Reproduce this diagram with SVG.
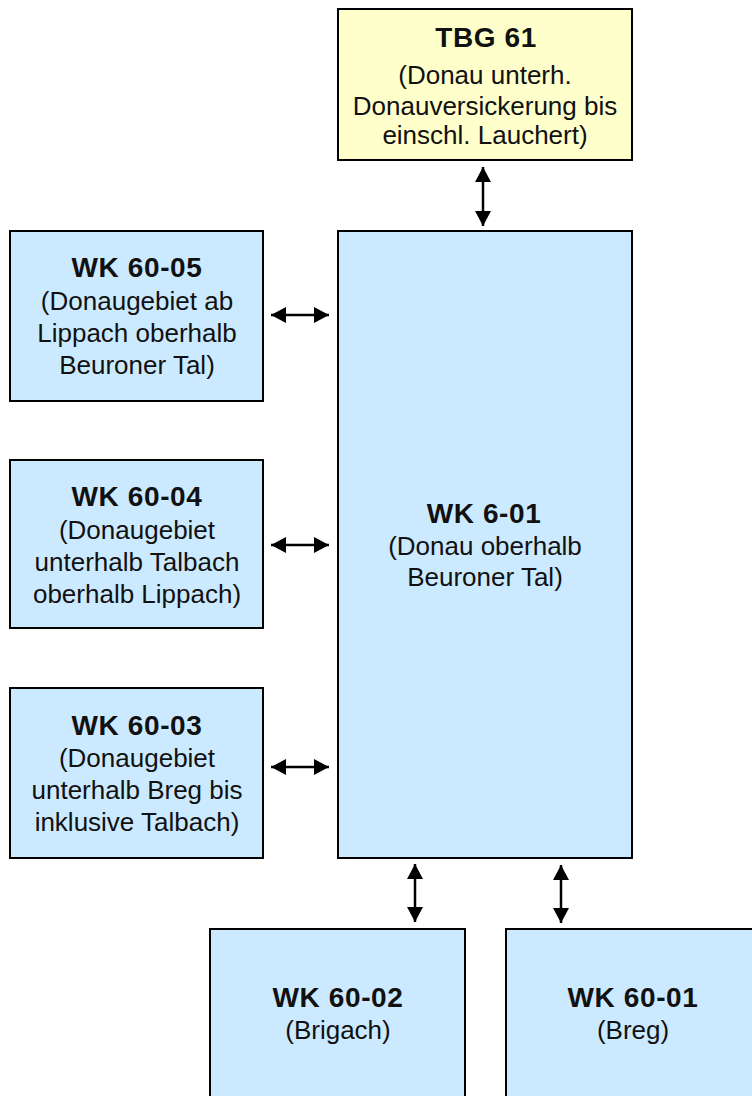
<svg xmlns="http://www.w3.org/2000/svg" width="752" height="1096" viewBox="0 0 752 1096">
  <style>
    .box { stroke: #000; stroke-width: 2; }
    .blue { fill: #cceaff; }
    .yellow { fill: #ffffcc; }
    text { font-family: "Liberation Sans", Arial, sans-serif; fill: #111; text-anchor: middle; }
    .t { font-size: 28px; font-weight: bold; letter-spacing: 0.6px; }
    .s { font-size: 26px; }
    .conn { stroke: #000; stroke-width: 2.5; fill: none; marker-start: url(#ah); marker-end: url(#ah); }
  </style>
  <defs>
    <marker id="ah" markerUnits="userSpaceOnUse" markerWidth="16" markerHeight="16" refX="15" refY="8" orient="auto-start-reverse" viewBox="0 0 16 16">
      <path d="M0,0 L15,8 L0,16 z" fill="#000"/>
    </marker>
  </defs>
  <rect width="752" height="1096" fill="#fff"/>

  <g id="tbg61">
    <rect class="box yellow" x="338" y="9" width="294" height="151"/>
    <text class="t" x="486" y="47">TBG 61</text>
    <text class="s" x="485" y="84">(Donau unterh.</text>
    <text class="s" x="485" y="115">Donauversickerung bis</text>
    <text class="s" x="485" y="144">einschl. Lauchert)</text>
  </g>

  <g id="wk6-01">
    <rect class="box blue" x="338" y="231" width="294" height="627"/>
    <text class="t" x="484" y="523">WK 6-01</text>
    <text class="s" x="485" y="555">(Donau oberhalb</text>
    <text class="s" x="485" y="586">Beuroner Tal)</text>
  </g>

  <g id="wk60-05">
    <rect class="box blue" x="10" y="231" width="253" height="170"/>
    <text class="t" x="137" y="277">WK 60-05</text>
    <text class="s" x="137" y="310">(Donaugebiet ab</text>
    <text class="s" x="137" y="342">Lippach oberhalb</text>
    <text class="s" x="137" y="374">Beuroner Tal)</text>
  </g>

  <g id="wk60-04">
    <rect class="box blue" x="10" y="460" width="253" height="168"/>
    <text class="t" x="137" y="506">WK 60-04</text>
    <text class="s" x="137" y="539">(Donaugebiet</text>
    <text class="s" x="137" y="571">unterhalb Talbach</text>
    <text class="s" x="137" y="603">oberhalb Lippach)</text>
  </g>

  <g id="wk60-03">
    <rect class="box blue" x="10" y="688" width="253" height="170"/>
    <text class="t" x="137" y="735">WK 60-03</text>
    <text class="s" x="137" y="767">(Donaugebiet</text>
    <text class="s" x="137" y="799">unterhalb Breg bis</text>
    <text class="s" x="137" y="831">inklusive Talbach)</text>
  </g>

  <g id="wk60-02">
    <rect class="box blue" x="210" y="929" width="255" height="180"/>
    <text class="t" x="338" y="1007">WK 60-02</text>
    <text class="s" x="338" y="1039">(Brigach)</text>
  </g>

  <g id="wk60-01">
    <rect class="box blue" x="506" y="929" width="255" height="180"/>
    <text class="t" x="633" y="1007">WK 60-01</text>
    <text class="s" x="633" y="1039">(Breg)</text>
  </g>

  <g id="connectors">
    <line class="conn" x1="483" y1="167" x2="483" y2="226"/>
    <line class="conn" x1="271" y1="315" x2="329" y2="315"/>
    <line class="conn" x1="271" y1="545" x2="329" y2="545"/>
    <line class="conn" x1="271" y1="767" x2="329" y2="767"/>
    <line class="conn" x1="415" y1="864" x2="415" y2="922"/>
    <line class="conn" x1="561" y1="865" x2="561" y2="923"/>
  </g>
</svg>
